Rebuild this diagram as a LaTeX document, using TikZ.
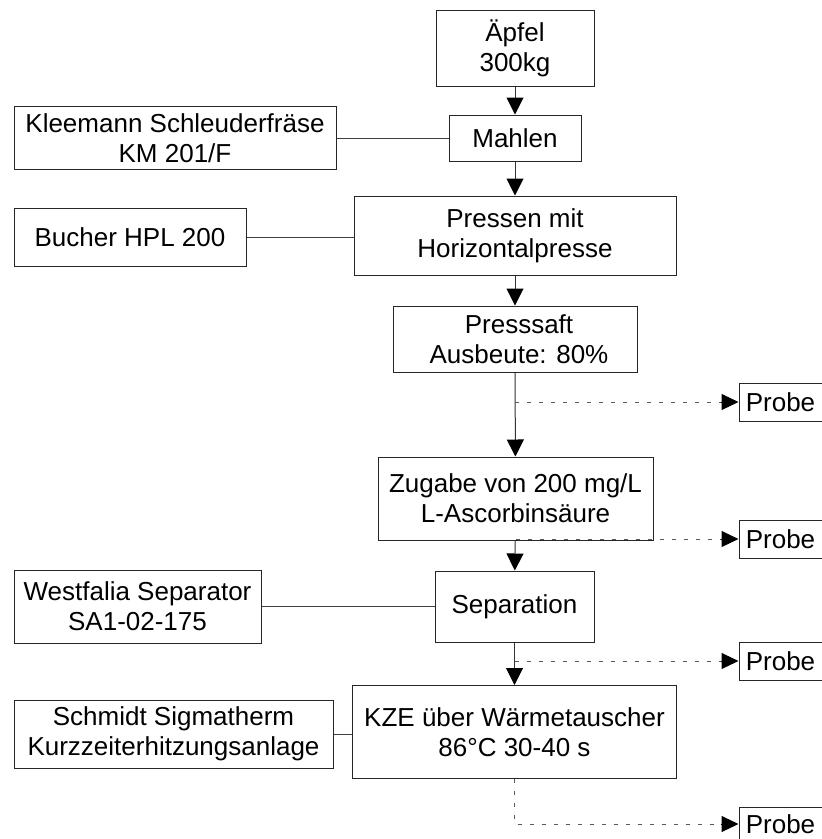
\documentclass[tikz,border=0pt]{standalone}
\usepackage{fontspec}
\setmainfont{Liberation Sans}
\usetikzlibrary{arrows.meta}
\begin{document}
\begin{tikzpicture}[x=1pt,y=-1pt,
  font=\fontsize{26}{30}\selectfont,
  boxnode/.style={draw=black!85,line width=1pt,align=center,inner sep=0pt},
  flow/.style={draw=black!80,line width=1pt,-{Triangle[width=17pt,length=17pt,color=black,fill=black]}},
  side/.style={draw=black!75,line width=1pt},
  probeline/.style={draw=black!65,line width=1pt,dash pattern=on 4pt off 8pt},
  probetip/.style={line width=1pt,-{Triangle[width=16pt,length=17pt,color=black,fill=black]}}]
\useasboundingbox (0,0) rectangle (822,839);
% main column
\node[boxnode,minimum width=158pt,minimum height=76pt] (apfel) at (515,48) {Äpfel\\300kg};
\node[boxnode,minimum width=132pt,minimum height=46pt] (mahlen) at (515,138) {Mahlen};
\node[boxnode,minimum width=322pt,minimum height=79pt] (pressen) at (515,235.5) {Pressen mit\\Horizontalpresse};
\node[boxnode,minimum width=244pt,minimum height=66pt] (saft) at (515,339) {\hspace*{8pt}Presssaft\\\hspace*{8pt}Ausbeute: 80\%};
\node[boxnode,minimum width=275pt,minimum height=83pt] (zugabe) at (515.5,498.5) {Zugabe von 200 mg/L\\L-Ascorbinsäure};
\node[boxnode,minimum width=159pt,minimum height=71pt] (sep) at (514.5,606.5) {Separation};
\node[boxnode,minimum width=324pt,minimum height=93pt] (kze) at (514.5,732) {KZE über Wärmetauscher\\86°C 30-40 s};
% side boxes
\node[boxnode,minimum width=322pt,minimum height=63pt] (klee) at (175,138) {Kleemann Schleuderfräse\\KM 201/F};
\node[boxnode,minimum width=232pt,minimum height=58pt] (bucher) at (130,237) {Bucher HPL 200};
\node[boxnode,minimum width=247pt,minimum height=73pt] (west) at (137.5,606.5) {Westfalia Separator\\SA1-02-175};
\node[boxnode,minimum width=319pt,minimum height=68pt] (schmidt) at (173.5,734) {Schmidt Sigmatherm\\Kurzzeiterhitzungsanlage};
% probe boxes
\node[boxnode,minimum width=83pt,minimum height=38pt] (p1) at (780.5,402) {Probe};
\node[boxnode,minimum width=83pt,minimum height=38pt] (p2) at (780.5,539) {Probe};
\node[boxnode,minimum width=83pt,minimum height=38pt] (p3) at (780.5,661) {Probe};
\node[boxnode,minimum width=83pt,minimum height=34pt] (p4) at (780.5,824) {Probe};
% main flow
\draw[flow] (apfel) -- (mahlen);
\draw[flow] (mahlen) -- (pressen);
\draw[flow] (pressen) -- (saft);
\draw[flow] (saft) -- (zugabe);
\draw[flow] (zugabe) -- (sep);
\draw[flow] (sep) -- (kze);
% side connectors
\draw[side] (klee.east) -- (mahlen.west |- klee.east);
\draw[side] (bucher.east) -- (pressen.west |- bucher.east);
\draw[side] (west.east) -- (sep.west |- west.east);
\draw[side] (schmidt.east) -- (kze.west |- schmidt.east);
% sample branches
\coordinate (b1) at (saft.south |- p1.west);
\coordinate (b2) at (zugabe.south |- p2.west);
\coordinate (b3) at (sep.south |- p3.west);
\coordinate (b4) at (kze.south |- p4.west);
\draw[probeline] (b1) -- ([xshift=-17pt]p1.west);
\draw[probeline] (b2) -- ([xshift=-17pt]p2.west);
\draw[probeline] (b3) -- ([xshift=-17pt]p3.west);
\draw[probeline] (kze.south) -- (b4) -- ([xshift=-17pt]p4.west);
\draw[probetip] ([xshift=-18pt]p1.west) -- (p1.west);
\draw[probetip] ([xshift=-18pt]p2.west) -- (p2.west);
\draw[probetip] ([xshift=-18pt]p3.west) -- (p3.west);
\draw[probetip] ([xshift=-18pt]p4.west) -- (p4.west);
\end{tikzpicture}
\end{document}
